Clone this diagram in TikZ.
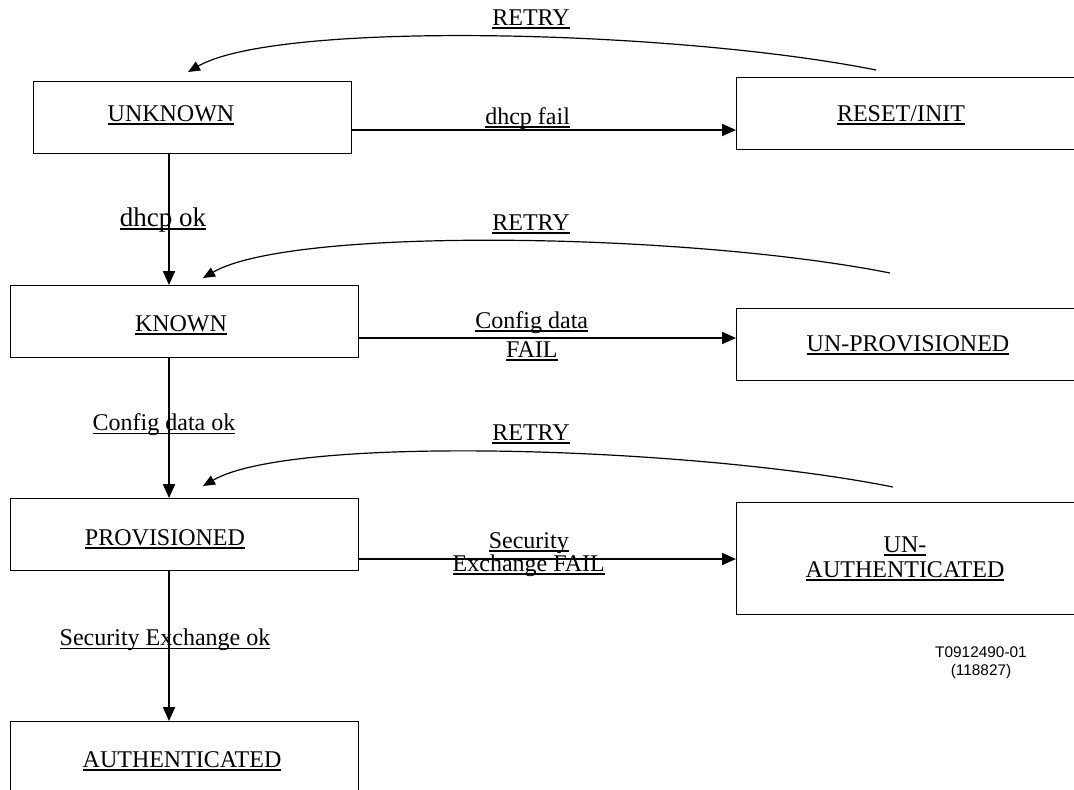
\documentclass[tikz,border=0pt]{standalone}
\usepackage{fontspec}
\setmainfont{Liberation Serif}
\newfontfamily\figfont{Liberation Sans}
\usetikzlibrary{arrows.meta}
\newcommand{\ulin}[1]{\setbox0\hbox{#1}\rlap{\rule[-1.9pt]{\wd0}{0.9pt}}\box0}

\begin{document}
\begin{tikzpicture}[x=0.5pt, y=-0.5pt,
  statebox/.style={draw, line width=0.6pt, rectangle, anchor=north west, inner sep=0},
  lbl/.style={anchor=base, inner sep=0, align=center, font=\fontsize{12}{14.5}\selectfont},
  trans/.style={line width=1pt, -{Triangle[length=7pt,width=6pt]}},
  retryarc/.style={line width=0.6pt, -{Triangle[length=6pt,width=5pt]}}]
\useasboundingbox (0,0) rectangle (1074,789);

\node[statebox, minimum width=159pt, minimum height=36pt] (unknown) at (33,81) {};
\node[statebox, minimum width=170pt, minimum height=36pt] (reset) at (736,77) {};
\node[statebox, minimum width=174pt, minimum height=36pt] (known) at (10,285) {};
\node[statebox, minimum width=170pt, minimum height=36pt] (unprov) at (736,308) {};
\node[statebox, minimum width=174pt, minimum height=36pt] (prov) at (10,498) {};
\node[statebox, minimum width=170pt, minimum height=56pt] (unauth) at (736,502) {};
\node[statebox, minimum width=174pt, minimum height=40pt] (auth) at (10,721) {};

\node[lbl] (unknowntxt) at (171,121) {\ulin{UNKNOWN}};
\node[lbl] (resettxt) at (901,121) {\ulin{RESET/INIT}};
\node[lbl] (knowntxt) at (181,331) {\ulin{KNOWN}};
\node[lbl] (unprovtxt) at (908,351) {\ulin{UN-PROVISIONED}};
\node[lbl] (provtxt) at (165,545) {\ulin{PROVISIONED}};
\node[lbl, font=\fontsize{12}{12.5}\selectfont] (unauthtxt) at (905,577) {\ulin{UN-}\\\ulin{AUTHENTICATED}};
\node[lbl] (authtxt) at (182,767) {\ulin{AUTHENTICATED}};
\node[lbl, font={\figfont\fontsize{7.7}{9}\selectfont}] (figid) at (981,675) {T0912490-01\\(118827)};

\draw[trans] (unknown.east |- 0,130) -- node[lbl, pos=.457, yshift=3pt] {\ulin{dhcp fail}} (reset.west |- 0,130);
\draw[trans] (unknown.south -| 169,0) -- node[lbl, pos=.55, xshift=-3pt, font=\fontsize{13.5}{15}\selectfont] {\ulin{dhcp ok}} (known.north -| 169,0);
\draw[trans] (known.east |- 0,338) -- node[lbl, pos=.458, yshift=-9.5pt] {\ulin{Config data}\\\ulin{FAIL}} (unprov.west |- 0,338);
\draw[trans] (known.south -| 169,0) -- node[lbl, pos=.518, xshift=-2.5pt] {\ulin{Config data ok}} (prov.north -| 169,0);
\draw[trans] (prov.east |- 0,559) -- node[lbl, pos=.45, yshift=-6pt, font=\fontsize{12}{11.5}\selectfont] {\ulin{Security}\\\ulin{Exchange FAIL}} (unauth.west |- 0,559);
\draw[trans] (prov.south -| 169,0) -- node[lbl, pos=.497, xshift=-2pt] {\ulin{Security Exchange ok}} (auth.north -| 169,0);

\foreach \i/\xs/\ys/\xe/\ye/\yl in {1/876/70/188/72/25, 2/890/273/203/278/230, 3/893/487/203/486/440} {
  \coordinate (retryA\i) at (\xs,\ys);
  \coordinate (retryB\i) at (\xe,\ye);
  \draw[retryarc] (retryA\i) .. controls +(-200,-40) and +(90,-52) .. (retryB\i);
  \node[lbl] (retry\i) at (531,\yl) {\ulin{RETRY}};
}
\end{tikzpicture}
\end{document}
